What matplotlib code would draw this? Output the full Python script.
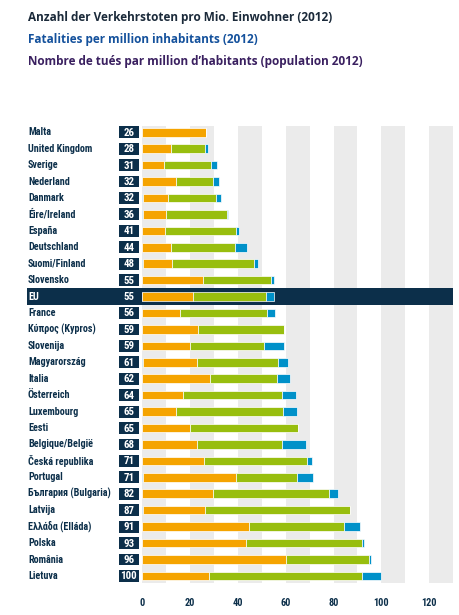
import matplotlib
matplotlib.use("Agg")
import matplotlib.pyplot as plt
from matplotlib.patches import Rectangle
import matplotlib.transforms as mtransforms
from matplotlib import font_manager

countries = ["Malta", "United Kingdom", "Sverige", "Nederland", "Danmark", "Éire/Ireland",
             "España", "Deutschland", "Suomi/Finland", "Slovensko", "EU", "France",
             "Κύπρος (Kypros)", "Slovenija", "Magyarország", "Italia", "Österreich",
             "Luxembourg", "Eesti", "Belgique/België", "Česká republika", "Portugal",
             "България (Bulgaria)", "Latvija", "Ελλάδα (Elláda)", "Polska", "România", "Lietuva"]
totals = [26, 28, 31, 32, 32, 36, 41, 44, 48, 55, 55, 56, 59, 59, 61, 62, 64, 65, 65, 68,
          71, 71, 82, 87, 91, 93, 96, 100]
sliver = [0, 0, 0, 0, 0.4, 0.4, 0, 0, 0.4, 0, 0, 0, 0, 0, 0.4, 0, 0, 0, 0, 0,
          0, 0.4, 0, 0.4, 0, 0, 0, 0]
orange = [26.5, 11.9, 9.1, 14.0, 10.2, 9.4, 9.4, 12.1, 12.1, 25.4, 21.2, 15.6, 23.3, 20.0,
          22.5, 28.2, 17.2, 14.0, 20.0, 22.9, 25.7, 38.9, 29.6, 25.7, 44.6, 43.4, 60.3, 27.9]
green = [0, 14.3, 19.6, 15.6, 20.1, 25.5, 29.8, 26.7, 34.2, 28.3, 30.4, 36.6, 36.0, 30.9,
         34.0, 28.3, 41.4, 45.0, 45.0, 35.7, 43.2, 25.4, 48.6, 60.6, 39.8, 48.5, 34.6, 64.0]
blue = [0, 1.3, 2.4, 2.4, 2.1, 0.7, 1.3, 5.0, 1.7, 1.3, 3.6, 3.3, 0, 8.4, 4.2, 5.4, 5.7,
        5.7, 0, 9.8, 2.0, 6.6, 3.7, 0, 6.6, 0.7, 0.7, 8.1]
xticks = [0, 20, 40, 60, 80, 100, 120]
titles = ["Anzahl der Verkehrstoten pro Mio. Einwohner (2012)",
          "Fatalities per million inhabitants (2012)",
          "Nombre de tués par million d’habitants (population 2012)"]

NAVY = "#0c2f4a"
C_OR = "#f5a400"
C_GR = "#98be0e"
C_BL = "#0091c9"
STRIPE = "#ebebeb"

names = {f.name for f in font_manager.fontManager.ttflist}
narrow_family = None
for cand in ["Liberation Sans Narrow", "Roboto Condensed", "Open Sans Condensed",
             "DejaVu Sans Condensed"]:
    if cand in names:
        narrow_family = cand
        break
if narrow_family is None:
    narrow_kw = dict(family=["DejaVu Sans"], stretch="condensed")
else:
    narrow_kw = dict(family=[narrow_family, "DejaVu Sans"])

W, H = 460, 615
fig = plt.figure(figsize=(W / 100, H / 100), dpi=100)
fig.patch.set_facecolor("white")

x0_px, x1_px = 142.3, 453.0
y_top, y_bot = 126.0, 583.0
ax = fig.add_axes([x0_px / W, 1 - y_bot / H, (x1_px - x0_px) / W, (y_bot - y_top) / H])
n = len(countries)
ax.set_xlim(0, 130)
ax.set_ylim(n - 1 + 0.43, -0.38)
ax.axis("off")

for s in range(0, 130, 20):
    ax.axvspan(s, s + 10, color=STRIPE, zorder=0, lw=0)

eu = countries.index("EU")
trans = mtransforms.blended_transform_factory(fig.transFigure, ax.transData)
ax.add_patch(Rectangle((26.7 / W, eu - 0.5), (453.0 - 26.7) / W, 1.0, transform=trans,
                       facecolor=NAVY, edgecolor="none", zorder=1, clip_on=False))

ys = list(range(n))
bh = 0.52
left = [0.0] * n
for vals, col in [(sliver, C_BL), (orange, C_OR), (green, C_GR), (blue, C_BL)]:
    ax.barh(ys, vals, left=left, height=bh, color=col, edgecolor="white", linewidth=0.5,
            zorder=3)
    left = [l + v for l, v in zip(left, vals)]

bx0, bx1 = 119.0 / W, 138.7 / W
for i, (c, t) in enumerate(zip(countries, totals)):
    is_eu = (i == eu)
    txtcol = "white" if is_eu else NAVY
    ax.text(28.0 / W, i, c, transform=trans, ha="left", va="center", fontsize=7.3,
            fontweight="bold", color=txtcol, zorder=5, clip_on=False, **narrow_kw)
    if not is_eu:
        ax.add_patch(Rectangle((bx0, i - 0.36), bx1 - bx0, 0.72, transform=trans,
                               facecolor=NAVY, edgecolor="none", zorder=4, clip_on=False))
    ax.text((bx0 + bx1) / 2, i + 0.03, str(t), transform=trans, ha="center", va="center",
            fontsize=7.8, fontweight="bold", color="white", zorder=5, clip_on=False,
            **narrow_kw)

pix_y = mtransforms.Affine2D().scale(1, -1).translate(0, H)
tick_trans = mtransforms.blended_transform_factory(ax.transData, pix_y)
for xt in xticks:
    ax.text(xt, 603.0, str(xt), transform=tick_trans, ha="center", va="center",
            fontsize=7.4, fontweight="bold", color=NAVY, clip_on=False, **narrow_kw)

tcols = ["#1b2a3a", "#14519c", "#3a2060"]
for ty, tt, tc in zip([17.5, 40.0, 61.5], titles, tcols):
    fig.text(28.0 / W, 1 - ty / H, tt, ha="left", va="center", fontsize=8.5,
             fontweight="bold", color=tc, family=["Open Sans", "DejaVu Sans"])

fig.savefig("out.png", dpi=100, facecolor="white")
